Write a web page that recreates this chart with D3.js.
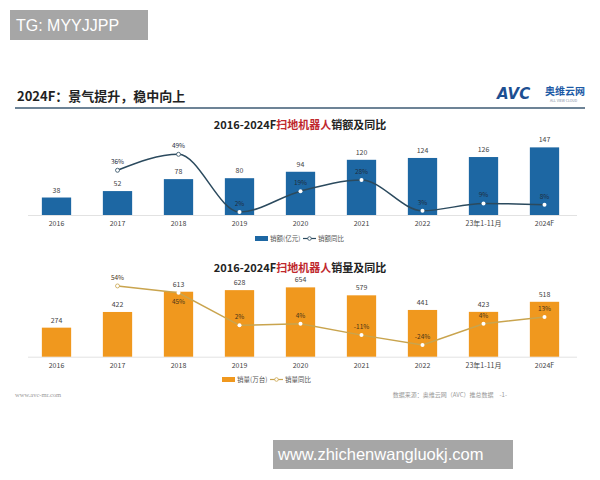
<!DOCTYPE html>
<html><head><meta charset="utf-8">
<script src="https://cdn.jsdelivr.net/npm/d3@7"></script>
<style>body{margin:0;background:#fff}svg{display:block}</style>
</head><body>
<script>
const categories = ["2016","2017","2018","2019","2020","2021","2022","23年1-11月","2024F"];
const salesValue = [38,52,78,80,94,120,124,126,147];            // 销额(亿元)
const salesValueYoY = [null,36,49,2,19,28,3,9,8];              // 销额同比 %
const salesVolume = [274,422,613,628,654,579,441,423,518];     // 销量(万台)
const salesVolumeYoY = [null,54,45,2,4,-11,-24,4,13];          // 销量同比 %

const W=600,H=480;
const svg=d3.select("body").append("svg").attr("width",W).attr("height",H);
const FONT='"Noto Sans CJK SC","Noto Sans",sans-serif';

// header
svg.append("text").attr("x",17).attr("y",101).attr("font-family",FONT).attr("font-size",13).attr("font-weight","bold").attr("fill","#222").text("2024F：景气提升，稳中向上");
svg.append("line").attr("x1",15).attr("x2",585).attr("y1",108).attr("y2",108).attr("stroke","#3d5a73").attr("stroke-width",1.5);
// logo
svg.append("text").attr("x",497).attr("y",99).attr("font-family",'"DejaVu Sans",sans-serif').attr("font-size",15).attr("font-weight","bold").attr("font-style","italic").attr("fill","#1d4f91").text("AVC");
svg.append("text").attr("x",545).attr("y",95).attr("font-family",FONT).attr("font-size",10).attr("font-weight","bold").attr("fill","#1d5aa5").text("奥维云网");
svg.append("text").attr("x",550).attr("y",102).attr("font-family",FONT).attr("font-size",3.5).attr("fill","#7a8aa0").text("ALL VIEW CLOUD");

const x=d3.scaleBand().domain(categories).range([26,575]).paddingInner(0.52).paddingOuter(0.26);

function drawChart(cfg){
  const g=svg.append("g");
  const y=d3.scaleLinear().domain(cfg.barDomain).range([cfg.base, cfg.barTop]);
  const yy=d3.scaleLinear().domain(cfg.yoyDomain).range(cfg.yoyRange);
  // title
  const t=g.append("text").attr("x",300).attr("y",cfg.titleY).attr("text-anchor","middle").attr("font-family",FONT).attr("font-size",11).attr("font-weight","bold").attr("fill","#222");
  t.append("tspan").text("2016-2024F");
  t.append("tspan").attr("fill","#c0282d").text("扫地机器人");
  t.append("tspan").text(cfg.titleTail);
  // baseline
  g.append("line").attr("x1",28).attr("x2",577).attr("y1",cfg.base+0.5).attr("y2",cfg.base+0.5).attr("stroke","#e2e2e2");
  // bars
  g.selectAll("rect.bar").data(cfg.values).join("rect").attr("class","bar")
    .attr("x",(d,i)=>x(categories[i])).attr("width",x.bandwidth())
    .attr("y",d=>y(d)).attr("height",d=>cfg.base-y(d)).attr("fill",cfg.barColor);
  g.selectAll("text.val").data(cfg.values).join("text").attr("class","val")
    .attr("x",(d,i)=>x(categories[i])+x.bandwidth()/2).attr("y",d=>y(d)-5)
    .attr("text-anchor","middle").attr("font-family",FONT).attr("font-size",7).attr("fill","#444").text(d=>d);
  // category axis labels
  const ax=d3.axisBottom(x).tickSize(0).tickPadding(0);
  const axg=g.append("g").attr("transform",`translate(0,${cfg.base+6.5})`).call(ax);
  axg.select(".domain").remove();
  axg.selectAll("text").attr("font-family",FONT).attr("font-size",7).attr("fill","#444");
  // line
  const pts=cfg.yoy.map((v,i)=>({v,i})).filter(p=>p.v!==null);
  const line=d3.line().x(p=>x(categories[p.i])+x.bandwidth()/2).y(p=>yy(p.v)).curve(cfg.curve);
  g.append("path").attr("d",line(pts)).attr("fill","none").attr("stroke",cfg.lineColor).attr("stroke-width",1.5);
  g.selectAll("circle.pt").data(pts).join("circle").attr("class","pt")
    .attr("cx",p=>x(categories[p.i])+x.bandwidth()/2).attr("cy",p=>yy(p.v)).attr("r",2)
    .attr("fill","#fff").attr("stroke",p=>yy(p.v)>y(cfg.values[p.i])?"none":cfg.lineColor).attr("stroke-width",0.8);
  g.selectAll("text.yoy").data(pts).join("text").attr("class","yoy")
    .attr("x",p=>x(categories[p.i])+x.bandwidth()/2)
    .attr("y",p=>{const py=yy(p.v),by=y(cfg.values[p.i]);return Math.abs(py-by)<10?py+11:py-6;})
    .attr("text-anchor","middle").attr("font-family",FONT).attr("font-size",6.5)
    .attr("fill",cfg.yoyText).text(p=>p.v+"%");
  // legend
  const lg=g.append("g").attr("transform",`translate(${cfg.legendX},${cfg.legendY})`).attr("font-family",FONT).attr("font-size",6.5).attr("fill","#555");
  lg.append("rect").attr("x",0).attr("y",-3).attr("width",13).attr("height",5).attr("fill",cfg.barColor);
  lg.append("text").attr("x",15).attr("y",2.3).text(cfg.legend1);
  const lx=15+cfg.legend1W;
  lg.append("line").attr("x1",lx).attr("x2",lx+13).attr("y1",-0.5).attr("y2",-0.5).attr("stroke",cfg.lineColor).attr("stroke-width",1.2);
  lg.append("circle").attr("cx",lx+6.5).attr("cy",-0.5).attr("r",1.8).attr("fill","#fff").attr("stroke",cfg.lineColor).attr("stroke-width",0.8);
  lg.append("text").attr("x",lx+15).attr("y",2.3).text(cfg.legend2);
}

drawChart({values:salesValue,yoy:salesValueYoY,base:215,barDomain:[0,160],barTop:141.4,
  yoyDomain:[0,60],yoyRange:[214.5,140.8],barColor:"#1d67a3",lineColor:"#2b4a5e",yoyText:"#1e2e3e",
  curve:d3.curveMonotoneX,titleY:129,titleTail:"销额及同比",legendX:255,legendY:239,
  legend1:"销额(亿元)",legend1W:33,legend2:"销额同比"});

drawChart({values:salesVolume,yoy:salesVolumeYoY,base:356.7,barDomain:[0,700],barTop:282.5,
  yoyDomain:[-30,60],yoyRange:[349.5,281.4],barColor:"#f0981e",lineColor:"#c9a44e",yoyText:"#4a3418",
  curve:d3.curveLinear,titleY:272,titleTail:"销量及同比",legendX:222,legendY:380,
  legend1:"销量(万台)",legend1W:33,legend2:"销量同比"});

// footer
svg.append("text").attr("x",15).attr("y",397).attr("font-family",'"Liberation Serif",serif').attr("font-size",6.5).attr("fill","#999").text("www.avc-mr.com");
svg.append("text").attr("x",507).attr("y",397).attr("text-anchor","end").attr("font-family",FONT).attr("font-size",6).attr("fill","#999").text("数据来源：奥维云网（AVC）推总数据　-1-");

// overlay boxes
svg.append("rect").attr("x",10).attr("y",10).attr("width",138).attr("height",30).attr("fill","#a6a6a6");
svg.append("text").attr("x",16).attr("y",31).attr("font-family",'"Liberation Sans",Arial,sans-serif').attr("font-size",16).attr("fill","#fff").text("TG: MYYJJPP");
svg.append("rect").attr("x",273).attr("y",440).attr("width",240).attr("height",29).attr("fill","#a6a6a6");
svg.append("text").attr("x",278).attr("y",460).attr("font-family",'"Liberation Sans",Arial,sans-serif').attr("font-size",16.5).attr("fill","#fff").text("www.zhichenwangluokj.com");
</script>
</body></html>
